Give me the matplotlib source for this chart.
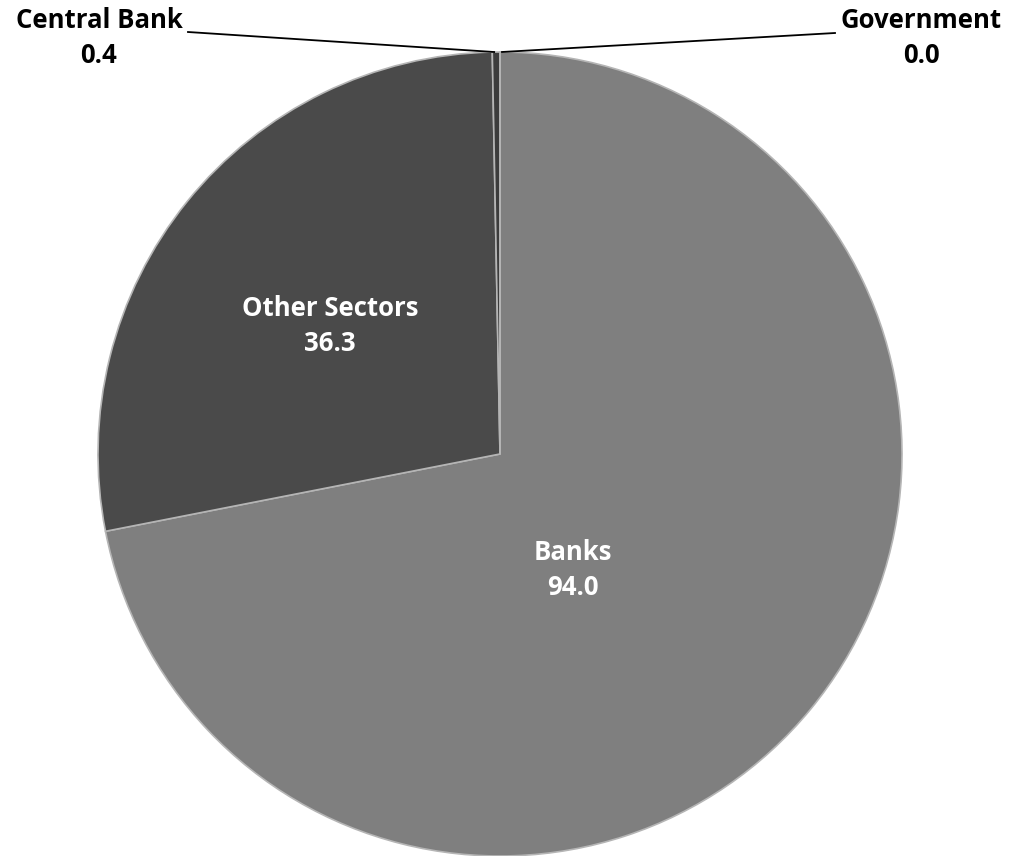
import numpy as np
import matplotlib.pyplot as plt

sectors = ['Banks', 'Other Sectors', 'Central Bank', 'Government']
values = [94.0, 36.3, 0.4, 0.0]
colors = ['#7f7f7f', '#4a4a4a', '#3c3c3c', '#5a5a5a']

plt.rcParams['font.family'] = ['Open Sans', 'DejaVu Sans']

fig = plt.figure(figsize=(10.12, 8.56), dpi=100)
ax = fig.add_axes([0, 0, 1, 1])

cx, cy, r = 500, 402, 402
wedges, _ = ax.pie(values, colors=colors, startangle=90, counterclock=False,
                   center=(cx, cy), radius=r, frame=True,
                   wedgeprops=dict(edgecolor='#b5b5b5', linewidth=1.2))
ax.set_xlim(0, 1012)
ax.set_ylim(0, 856)
ax.axis('off')

# inside labels
inside = {'Banks': (0.34, -58), 'Other Sectors': (0.53, 143)}
for w, name, val in zip(wedges, sectors, values):
    if name in inside:
        d, ang = inside[name]
        x = cx + d * r * np.cos(np.radians(ang))
        y = cy + d * r * np.sin(np.radians(ang))
        ax.text(x, y, f'{name}\n{val:.1f}', color='white', fontsize=18.5,
                fontweight='bold', ha='center', va='center', linespacing=1.4)

# outside labels with leader lines
outside = {'Central Bank': (99, 818, 188, 824, -1), 'Government': (921, 818, 835, 823, 1)}
for w, name, val in zip(wedges, sectors, values):
    if name in outside:
        tx, ty, lx, ly, side = outside[name]
        mid = np.radians((w.theta1 + w.theta2) / 2)
        px = cx + r * np.cos(mid) + side * 2
        py = cy + r * np.sin(mid)
        ax.plot([lx, px], [ly, py], color='black', linewidth=1.3)
        ax.text(tx, ty, f'{name}\n{val:.1f}', color='black', fontsize=18.5,
                fontweight='bold', ha='center', va='center', linespacing=1.4)

fig.savefig('out.png', dpi=100)
